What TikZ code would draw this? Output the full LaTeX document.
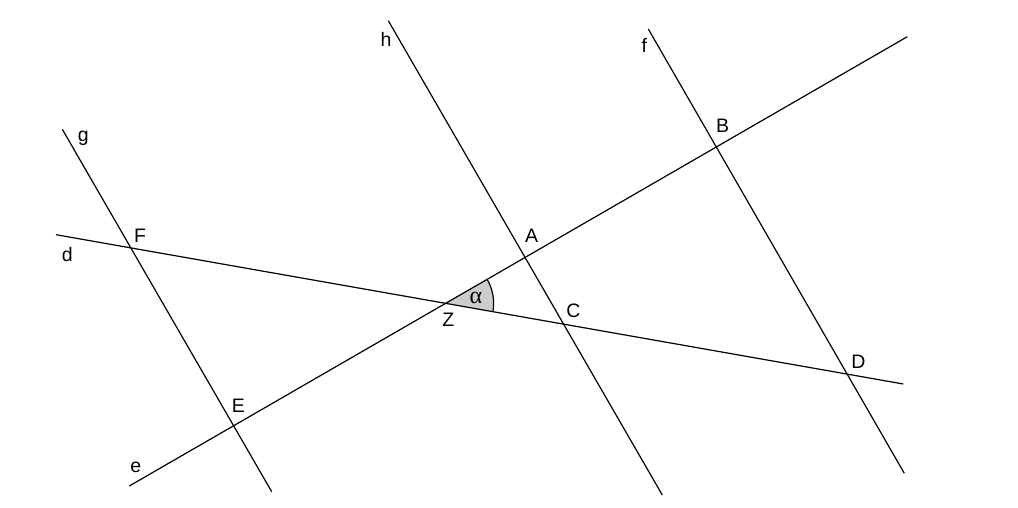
\documentclass[tikz,border=0pt]{standalone}
\usepackage{fontspec}
\setmainfont{Liberation Sans}
\newfontfamily\greekfont{Liberation Serif}
\begin{document}
\begin{tikzpicture}[x=1pt,y=-1pt,
  ln/.style={line width=1.2pt,line cap=butt},
  lbl/.style={inner sep=0pt,font=\fontsize{19.5}{22}\selectfont}]
\useasboundingbox (0,0) rectangle (1018,508);
% end points
\coordinate (d1) at (56,234.7);   \coordinate (d2) at (903.3,384);
\coordinate (e1) at (129.3,486);  \coordinate (e2) at (907.3,36.7);
\coordinate (h1) at (388.3,20.7); \coordinate (h2) at (662.3,495);
\coordinate (f1) at (648.3,29);   \coordinate (f2) at (904.3,473.3);
\coordinate (g1) at (62.3,129.3); \coordinate (g2) at (271.7,491.7);
\coordinate (Z) at (intersection of d1--d2 and e1--e2);
% angle
\path (Z) ++(-30:48) coordinate (ae);
\fill[black!20] (Z) -- (ae) arc[start angle=-30,end angle=10,radius=48] -- cycle;
\draw[line width=1.2pt] (ae) arc[start angle=-30,end angle=10,radius=48];
% lines
\draw[ln] (d1) -- (d2);
\draw[ln] (e1) -- (e2);
\draw[ln] (h1) -- (h2);
\draw[ln] (f1) -- (f2);
\draw[ln] (g1) -- (g2);
% labels
\node[lbl] (lg) at (83.3,138.3) {g};
\node[lbl] (lh) at (386,39.3) {h};
\node[lbl] (lf) at (644.3,45) {f};
\node[lbl] (ld) at (67.3,255) {d};
\node[lbl] (le) at (135.7,467.3) {e};
\node[lbl] (lB) at (722.7,126) {B};
\node[lbl] (lA) at (531.7,236) {A};
\node[lbl] (lF) at (140,236) {F};
\node[lbl] (lC) at (573.3,311) {C};
\node[lbl] (lZ) at (448.3,320) {Z};
\node[lbl] (lD) at (858.3,361.7) {D};
\node[lbl] (lE) at (238.3,406) {E};
\node[inner sep=0pt,font=\fontsize{24}{26}\selectfont\greekfont] (lal) at (476,297.7) {α};
\end{tikzpicture}
\end{document}
